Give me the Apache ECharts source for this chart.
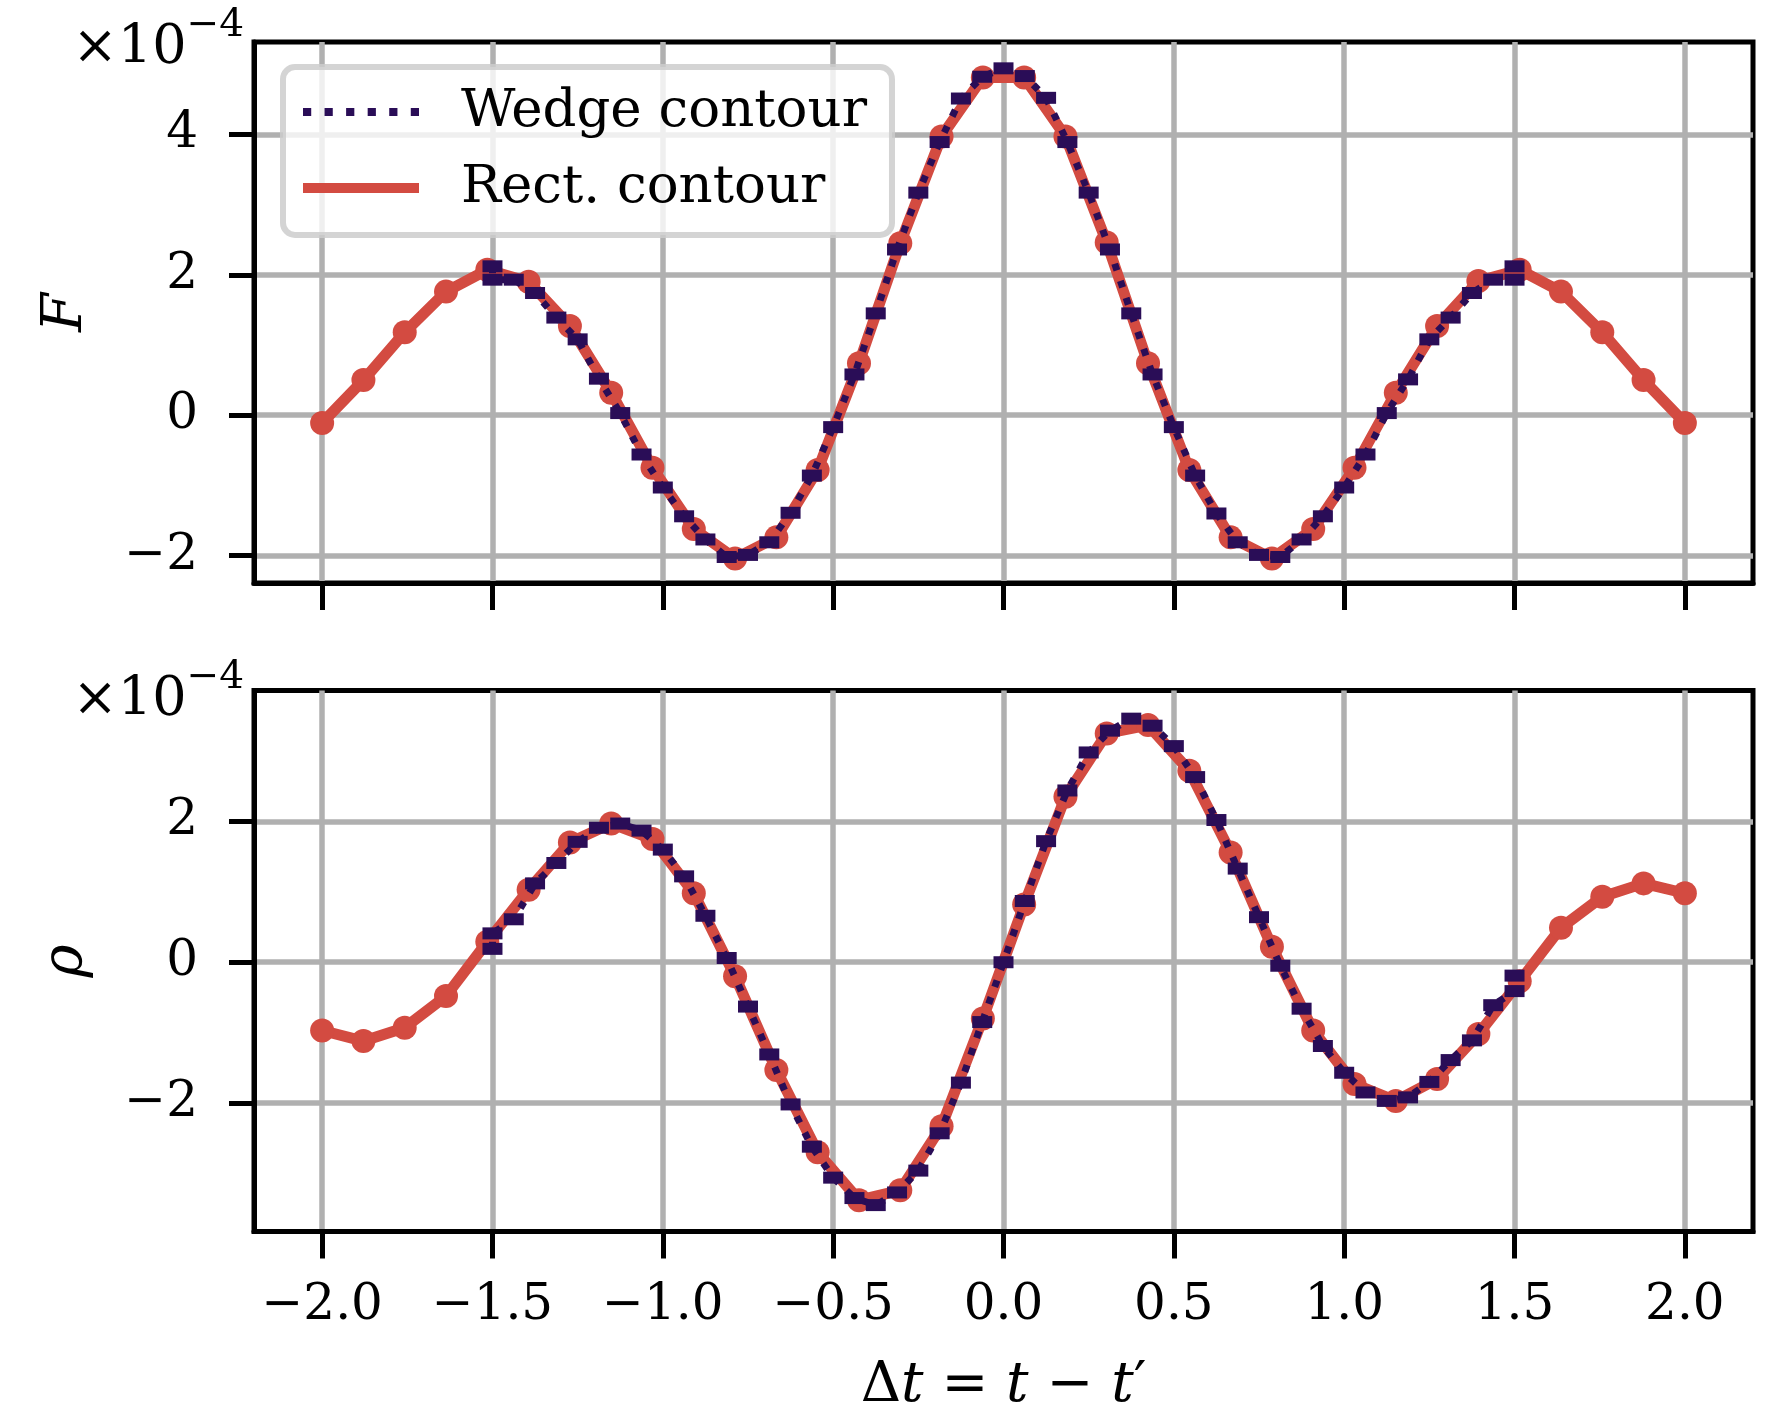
<!DOCTYPE html>
<html>
<head>
<meta charset="utf-8">
<title>F and rho, wedge vs rect contour</title>
<script src="https://cdn.jsdelivr.net/npm/echarts@6/dist/echarts.min.js"></script>
<style>
  html, body { margin: 0; padding: 0; background: #fff; }
  #chart { width: 1773px; height: 1409px; }
</style>
</head>
<body>
<div id="chart"></div>
<script>
// rect contour samples (values in units of 1e-4)
var rectT = [-2.0, -1.8788, -1.7576, -1.6364, -1.5152, -1.3939, -1.2727, -1.1515, -1.0303, -0.9091,
  -0.7879, -0.6667, -0.5455, -0.4242, -0.3030, -0.1818, -0.0606, 0.0606, 0.1818, 0.3030,
  0.4242, 0.5455, 0.6667, 0.7879, 0.9091, 1.0303, 1.1515, 1.2727, 1.3939, 1.5152,
  1.6364, 1.7576, 1.8788, 2.0];
var rectF = [-0.11, 0.50, 1.18, 1.76, 2.07, 1.90, 1.27, 0.32, -0.75, -1.62,
  -2.04, -1.74, -0.78, 0.74, 2.45, 3.97, 4.81, 4.81, 3.97, 2.46,
  0.74, -0.78, -1.74, -2.04, -1.62, -0.75, 0.32, 1.27, 1.91, 2.07,
  1.76, 1.18, 0.50, -0.11];
var rectRho = [-0.97, -1.12, -0.93, -0.48, 0.29, 1.03, 1.70, 1.97, 1.75, 0.98,
  -0.20, -1.53, -2.70, -3.38, -3.24, -2.33, -0.80, 0.82, 2.35, 3.25,
  3.37, 2.72, 1.56, 0.22, -0.97, -1.73, -1.97, -1.66, -1.02, -0.27,
  0.49, 0.93, 1.12, 0.98];

// wedge contour samples (two points sit on each end at +-1.5)
var wedgeT = [-1.5, -1.5, -1.4375, -1.375, -1.3125, -1.25, -1.1875, -1.125, -1.0625, -1.0,
  -0.9375, -0.875, -0.8125, -0.75, -0.6875, -0.625, -0.5625, -0.5, -0.4375, -0.375,
  -0.3125, -0.25, -0.1875, -0.125, -0.0625, 0.0, 0.0625, 0.125, 0.1875, 0.25,
  0.3125, 0.375, 0.4375, 0.5, 0.5625, 0.625, 0.6875, 0.75, 0.8125, 0.875,
  0.9375, 1.0, 1.0625, 1.125, 1.1875, 1.25, 1.3125, 1.375, 1.4375, 1.5, 1.5];
var wedgeF = [2.12, 1.93, 1.93, 1.74, 1.39, 1.08, 0.52, 0.03, -0.56, -1.03,
  -1.44, -1.77, -2.02, -1.99, -1.81, -1.39, -0.86, -0.17, 0.58, 1.45,
  2.36, 3.17, 3.89, 4.51, 4.82, 4.94, 4.83, 4.52, 3.89, 3.17,
  2.36, 1.45, 0.58, -0.17, -0.86, -1.40, -1.81, -1.99, -2.02, -1.77,
  -1.44, -1.03, -0.56, 0.03, 0.51, 1.08, 1.39, 1.74, 1.93, 1.93, 2.12];
var wedgeRho = [0.19, 0.41, 0.61, 1.12, 1.41, 1.71, 1.91, 1.97, 1.87, 1.60,
  1.22, 0.66, 0.06, -0.63, -1.31, -2.02, -2.62, -3.06, -3.35, -3.45,
  -3.27, -2.96, -2.43, -1.71, -0.85, 0.00, 0.87, 1.72, 2.44, 2.98,
  3.29, 3.46, 3.36, 3.07, 2.63, 2.02, 1.33, 0.64, -0.05, -0.66,
  -1.19, -1.57, -1.85, -1.97, -1.92, -1.70, -1.39, -1.11, -0.61, -0.41, -0.19];

var xTicks = [-2, -1.5, -1, -0.5, 0, 0.5, 1, 1.5, 2];
var fTicks = [-2, 0, 2, 4];
var rhoTicks = [-2, 0, 2];

var SERIF = '"DejaVu Serif", "Liberation Serif", serif';
var RED = '#d34b41';
var DARK = '#2a0d57';
var GRIDGRAY = '#b0b0b0';

function pairs(xs, ys) {
  return xs.map(function (x, i) { return [x, ys[i]]; });
}

// matplotlib style minus sign
function fmt(v, digits) {
  var s = digits ? Math.abs(v).toFixed(digits) : String(Math.abs(v));
  return v < 0 ? '\u2212' + s : s;
}

function makeX(gridIndex, withLabels) {
  var ax = {
    type: 'value', gridIndex: gridIndex, min: -2.2, max: 2.2,
    axisLine: { show: true, onZero: false, lineStyle: { color: '#000', width: 5 } },
    axisTick: { show: true, customValues: xTicks, length: 27, lineStyle: { color: '#000', width: 5 } },
    axisLabel: {
      show: withLabels, customValues: xTicks, margin: 50,
      fontFamily: SERIF, fontSize: 50, color: '#000',
      formatter: function (v) { return fmt(v, 1); }
    },
    splitLine: { show: true, lineStyle: { color: GRIDGRAY, width: 5.5 } }
  };
  if (withLabels) {
    ax.name = '{u|\u0394}{i|t}{u| = }{i|t}{u| \u2212 }{i|t}{u|\u2032}';
    ax.nameLocation = 'middle';
    ax.nameGap = 127;
    ax.nameTextStyle = {
      rich: {
        u: { fontFamily: SERIF, fontSize: 56, color: '#000' },
        i: { fontFamily: SERIF, fontSize: 56, fontStyle: 'italic', color: '#000' }
      }
    };
  }
  return ax;
}

function makeY(gridIndex, min, max, ticks, label) {
  return {
    type: 'value', gridIndex: gridIndex, min: min, max: max,
    name: label, nameLocation: 'middle', nameGap: 160, nameRotate: 90,
    nameTextStyle: { fontFamily: SERIF, fontStyle: 'italic', fontSize: 56, color: '#000' },
    axisLine: { show: true, onZero: false, lineStyle: { color: '#000', width: 5 } },
    axisTick: { show: true, customValues: ticks, length: 25, lineStyle: { color: '#000', width: 5 } },
    axisLabel: {
      customValues: ticks, margin: 56,
      fontFamily: SERIF, fontSize: 50, color: '#000',
      formatter: function (v) { return fmt(v, 0); }
    },
    splitLine: { show: true, lineStyle: { color: GRIDGRAY, width: 5.5 } }
  };
}

function wedgeSeries(ax, ys) {
  return {
    name: 'Wedge contour', type: 'line', xAxisIndex: ax, yAxisIndex: ax,
    data: pairs(wedgeT, ys), z: 4,
    symbol: 'rect', symbolSize: [20, 12], showAllSymbol: true,
    itemStyle: { color: DARK, borderWidth: 0 },
    lineStyle: { color: DARK, width: 7, type: [7, 11], cap: 'butt' }
  };
}

function rectSeries(ax, ys) {
  return {
    name: 'Rect. contour', type: 'line', xAxisIndex: ax, yAxisIndex: ax,
    data: pairs(rectT, ys), z: 3,
    symbol: 'circle', symbolSize: 24, showAllSymbol: true,
    itemStyle: { color: RED, borderWidth: 0 },
    lineStyle: { color: RED, width: 11 }
  };
}

// exponent text drawn next to each y axis top
function offsetText(top) {
  return {
    type: 'text', x: 244, y: top, z: 10,
    style: {
      text: '{a|\u00d710}{b|\u22124}', align: 'right', verticalAlign: 'top',
      rich: {
        a: { fontFamily: SERIF, fontSize: 54, color: '#000', lineHeight: 70, verticalAlign: 'bottom' },
        b: { fontFamily: SERIF, fontSize: 39, color: '#000', lineHeight: 70, verticalAlign: 'top' }
      }
    }
  };
}

var dots = 'path://M0,0h8v8h-8zM21,0h8v8h-8zM42,0h8v8h-8zM63,0h8v8h-8zM84,0h8v8h-8zM105,0h8v8h-8z';
var bar = 'path://M0,0h119v10.5h-119z';

var chart = echarts.init(document.getElementById('chart'), null, { renderer: 'canvas' });
chart.setOption({
  animation: false,
  backgroundColor: '#fff',
  grid: [
    { left: 254, top: 42, width: 1499, height: 541, show: true, borderColor: '#000', borderWidth: 5, outerBoundsMode: 'none' },
    { left: 254, top: 690.5, width: 1499, height: 541, show: true, borderColor: '#000', borderWidth: 5, outerBoundsMode: 'none' }
  ],
  xAxis: [makeX(0, false), makeX(1, true)],
  yAxis: [
    makeY(0, -2.39, 5.315, fTicks, 'F'),
    makeY(1, -3.825, 3.86, rhoTicks, '\u03c1')
  ],
  legend: {
    orient: 'vertical', left: 283, top: 67,
    data: [{ name: 'Wedge contour', icon: dots }, { name: 'Rect. contour', icon: bar }],
    itemWidth: 116, itemHeight: 10.5, itemGap: 14, symbolKeepAspect: true,
    padding: [14, 25, 16, 20],
    backgroundColor: 'rgba(255,255,255,0.8)',
    borderColor: 'rgba(204,204,204,0.85)', borderWidth: 6, borderRadius: 12,
    itemStyle: { borderWidth: 0 },
    textStyle: { fontFamily: SERIF, fontSize: 53, color: '#000', padding: [0, 0, 0, 37], lineHeight: 62 }
  },
  graphic: [offsetText(6), offsetText(658)],
  series: [
    rectSeries(0, rectF), wedgeSeries(0, wedgeF),
    rectSeries(1, rectRho), wedgeSeries(1, wedgeRho)
  ]
});
</script>
</body>
</html>
